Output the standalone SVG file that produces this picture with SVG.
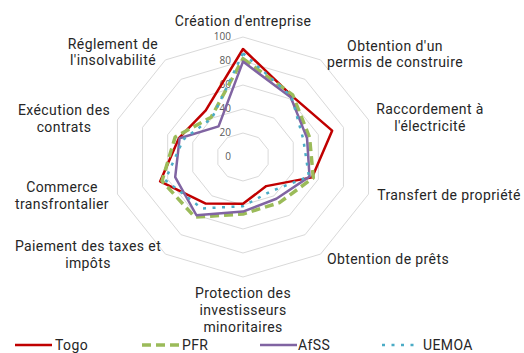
<svg xmlns="http://www.w3.org/2000/svg" width="524" height="353" viewBox="0 0 524 353">
<style>
.grid{fill:none;stroke:#d9d9d9;stroke-width:1}
.lbl{font-family:Roboto,"Open Sans","Liberation Sans",sans-serif;font-size:14px;letter-spacing:0.4px;fill:#262626;text-anchor:middle}
.tick{font-family:"Open Sans","Noto Sans","Liberation Sans",sans-serif;font-size:10px;fill:#595959;text-anchor:end}
.leg{font-family:Roboto,"Open Sans","Liberation Sans",sans-serif;font-size:14px;letter-spacing:0.4px;fill:#262626}
.s{fill:none;stroke-linejoin:round}
.togo{stroke:#C00000;stroke-width:2.5}
.pfr{stroke:#9BBB59;stroke-width:3.5;stroke-dasharray:9 5}
.afss{stroke:#8064A2;stroke-width:2.5}
.uemoa{stroke:#4BACC6;stroke-width:2.5;stroke-dasharray:3 6.5}
</style>
<rect width="524" height="353" fill="#ffffff"/>
<g id="grid">
<polygon class="grid" points="243,37 320.59,59.92 368.55,119.92 368.55,194.08 320.59,254.08 243,277 165.41,254.08 117.45,194.08 117.45,119.92 165.41,59.92"/>
<polygon class="grid" points="243,61 305.07,79.34 343.44,127.34 343.44,186.66 305.07,234.66 243,253 180.93,234.66 142.56,186.66 142.56,127.34 180.93,79.34"/>
<polygon class="grid" points="243,85 289.55,98.75 318.33,134.75 318.33,179.25 289.55,215.25 243,229 196.45,215.25 167.67,179.25 167.67,134.75 196.45,98.75"/>
<polygon class="grid" points="243,109 274.04,118.17 293.22,142.17 293.22,171.83 274.04,195.83 243,205 211.96,195.83 192.78,171.83 192.78,142.17 211.96,118.17"/>
<polygon class="grid" points="243,133 258.52,137.58 268.11,149.58 268.11,164.42 258.52,176.42 243,181 227.48,176.42 217.89,164.42 217.89,149.58 227.48,137.58"/>
</g>
<g id="ticks">
<text class="tick" x="231" y="40">100</text>
<text class="tick" x="231" y="64">80</text>
<text class="tick" x="231" y="88">60</text>
<text class="tick" x="231" y="112">40</text>
<text class="tick" x="231" y="136">20</text>
<text class="tick" x="231" y="160">0</text>
</g>
<g id="series">
<polygon id="togo" class="s togo" points="243,49 291.88,95.84 332.14,130.67 312.05,177.39 266.28,186.12 243,203.8 205.76,203.6 160.14,181.47 178.97,138.09 205.76,110.4"/>
<polygon id="pfr" class="s pfr" points="243,58.6 292.66,94.87 309.54,137.35 313.31,177.76 279.47,202.63 243,214 194.89,217.19 162.02,180.92 175.2,136.98 211.19,117.2"/>
<polygon id="afss" class="s afss" points="243,61.6 290.72,97.3 307.03,138.09 309.54,176.65 276.36,198.74 243,211.6 196.45,215.25 175.2,177.02 179.6,138.27 218.56,126.42"/>
<polygon id="uemoa" class="s uemoa" points="243,53.2 291.49,96.32 303.26,139.2 308.91,176.47 270.54,191.46 243,206.2 201.88,208.45 165.16,179.99 183.36,139.39 211.96,118.17"/>
</g>
<g id="labels">
<g id="axis0"><text class="lbl" x="243" y="26">Création d'entreprise</text></g>
<g id="axis1"><text class="lbl" x="395" y="50.5">Obtention d'un</text><text class="lbl" x="395" y="67">permis de construire</text></g>
<g id="axis2"><text class="lbl" x="430" y="114">Raccordement à</text><text class="lbl" x="430" y="130.5">l'électricité</text></g>
<g id="axis3"><text class="lbl" x="449" y="200">Transfert de propriété</text></g>
<g id="axis4"><text class="lbl" x="388" y="264">Obtention de prêts</text></g>
<g id="axis5"><text class="lbl" x="243" y="298">Protection des</text><text class="lbl" x="243" y="315">investisseurs</text><text class="lbl" x="243" y="332">minoritaires</text></g>
<g id="axis6"><text class="lbl" x="88" y="251">Paiement des taxes et</text><text class="lbl" x="88" y="268">impôts</text></g>
<g id="axis7"><text class="lbl" x="62" y="192">Commerce</text><text class="lbl" x="62" y="209">transfrontalier</text></g>
<g id="axis8"><text class="lbl" x="64" y="115">Exécution des</text><text class="lbl" x="64" y="131.5">contrats</text></g>
<g id="axis9"><text class="lbl" x="113" y="48.5">Réglement de</text><text class="lbl" x="113" y="65">l'insolvabilité</text></g>
</g>
<g id="legend">
<line class="togo" x1="15" y1="345" x2="52" y2="345"/><text class="leg" x="55" y="350">Togo</text>
<line class="pfr" x1="142" y1="345" x2="180" y2="345"/><text class="leg" x="182" y="350">PFR</text>
<line class="afss" x1="260" y1="345" x2="297" y2="345"/><text class="leg" x="298" y="350">AfSS</text>
<line class="uemoa" x1="382" y1="345" x2="419" y2="345"/><text class="leg" x="423" y="350">UEMOA</text>
</g>
</svg>
